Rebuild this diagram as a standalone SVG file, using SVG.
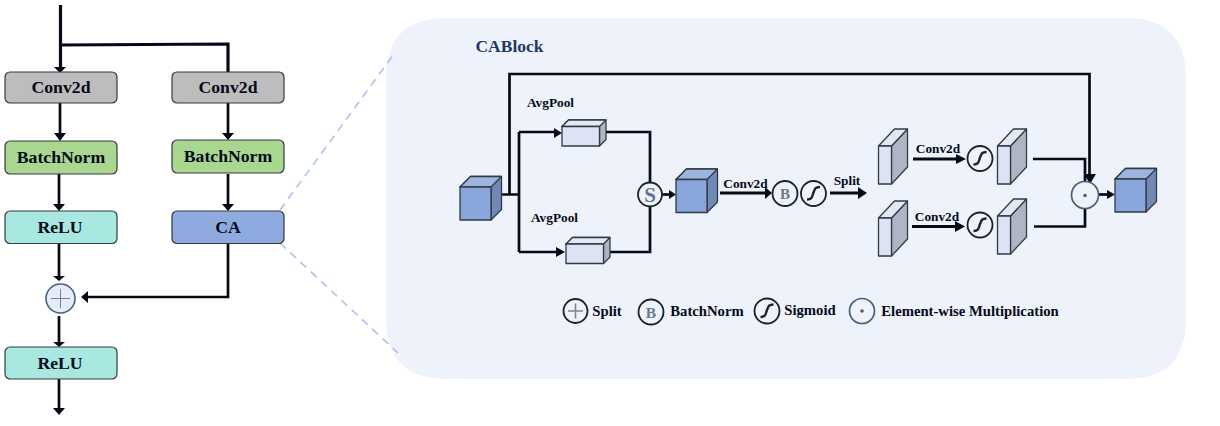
<svg xmlns="http://www.w3.org/2000/svg" width="1220" height="426" viewBox="0 0 1220 426">
<style>
text{font-family:"Liberation Serif","Times New Roman",serif;font-weight:bold;fill:#050a18;text-anchor:middle}
.n{font-size:17.7px}.s{font-size:13.300px}.l{font-size:14.700px}
.box{stroke:#333a40;stroke-width:1.200}
.w{fill:none;stroke:#050a14;stroke-width:3.200}
.t{fill:none;stroke:#050a14;stroke-width:2.700}
.h{fill:#050a14;stroke:none}
.c{fill:#eef2fb;stroke:#1c2128;stroke-width:1.800}
.cb{fill:#eef2fb;stroke:#4a5f80;stroke-width:1.700}
.sg{fill:none;stroke:#1c2128;stroke-width:2.400}
.e{stroke:#333a44;stroke-width:1.300;stroke-linejoin:round}
.d{stroke:#a9bde8;stroke-width:1.500;stroke-dasharray:8 6;fill:none}
</style>
<defs>
<g id="bigcube"><path class="e" d="M0 10.500L10.500 0H41.500V33L31 43.500V10.500Z" fill="#6f88b6"/><path class="e" d="M0 10.500L10.500 0H41.500L31 10.500Z" fill="#9db3e0"/><rect class="e" x="0" y="10.500" width="31" height="33" fill="#88a5dc"/></g>
<g id="thin"><path class="e" d="M0 17L16 0V38L0 55Z" transform="translate(13,0)" fill="#aeb6c6"/><path class="e" d="M0 17L16 0H29L13 17Z" fill="#e3e8f4"/><rect class="e" x="0" y="17" width="13" height="38" fill="#dbe3f5"/></g>
<g id="flat"><path class="e" d="M0 6.500L6.500 0H44V19.500L37.500 26V6.500Z" fill="#aeb6c6"/><path class="e" d="M0 6.500L6.500 0H44L37.500 6.500Z" fill="#e3e8f4"/><rect class="e" x="0" y="6.500" width="37.500" height="19.500" fill="#dbe3f5"/></g>
<g id="sig"><circle class="c" r="12.500"/><path class="sg" d="M-6.500 6C-1 6 -1.500 3 0 -1C1.500 -5 2 -6.500 6.500 -6.500"/></g>
</defs>
<path id="panel" d="M446 18H1126Q1186 18 1186 78V318Q1186 379 1126 379H446Q386 379 386 318V78Q386 18 446 18Z" fill="#eef2fb"/>
<g id="connectors">
<path class="d" d="M280 210L394 54M280 243L398 353"/>
<path class="w" d="M60.500 5V68M60.500 45L228 44V72"/><path class="h" d="M54 67H66L60 73Z"/>
<path class="t" d="M60 103V134M228 103V134M59 174V206M228 174V206M59 244V276M228 244V297H88M59 316V344M59 379V409"/>
<path class="h" d="M54 133H66L60 141ZM222 133H234L228 140ZM53 204H65L59 211ZM222 204H234L228 211ZM53 276H65L59 281ZM53 342H65L59 347ZM53 408H65L59 415ZM88 291V303L81 297Z"/>
<path class="t" d="M509.500 194.500V74H1089.500V176M502 194.500H519M519 132V252"/>
<path class="t" d="M519 132H555M519 252H556M606 132H650V182M609 252H650V207"/>
<path class="h" d="M554 128V138L562 133ZM556 247V257L565 252ZM1084 174H1096L1090 184Z"/>
<path class="t" d="M662 194.500H670"/><path class="h" d="M669 190V199L676 194.500Z"/>
<path class="w" d="M720 193H767M830 193H860M913 159H958M912 226.500H957"/>
<path class="h" d="M765 187V199L772 193ZM858 187V199L867 193ZM956 154V164L966 159ZM955 221V232L965 226.500Z"/>
<path class="t" d="M1033 159H1085V182M1034 226.500H1085V207"/>
<path class="t" d="M1099 194.500H1108"/><path class="h" d="M1107 190V199L1115 194.500Z"/>
</g>
<g id="conv2d-a"><rect class="box" x="5" y="72" width="112" height="31" rx="5" fill="#bdbdbd"/><text class="n" x="61" y="93">Conv2d</text></g>
<g id="batchnorm-a"><rect class="box" x="5" y="141" width="112" height="33" rx="5" fill="#a9d78f"/><text class="n" x="61" y="163">BatchNorm</text></g>
<g id="relu-a"><rect class="box" x="5" y="211" width="112" height="32.500" rx="5" fill="#a8e8e0"/><text class="n" x="60" y="233">ReLU</text></g>
<g id="conv2d-b"><rect class="box" x="172" y="72" width="112" height="31" rx="5" fill="#bdbdbd"/><text class="n" x="228" y="93">Conv2d</text></g>
<g id="batchnorm-b"><rect class="box" x="172" y="140" width="112" height="33" rx="5" fill="#a9d78f"/><text class="n" x="228" y="162">BatchNorm</text></g>
<g id="ca"><rect class="box" x="172" y="211" width="112" height="32.500" rx="5" fill="#8faadf"/><text class="n" x="228" y="233">CA</text></g>
<g id="add"><circle cx="60.500" cy="298.500" r="14.500" fill="#e6ecf9" stroke="#4a5f80" stroke-width="1.600"/><path d="M51 298.500H70M60.500 289V308" stroke="#7a7f8c" stroke-width="1"/></g>
<g id="relu-b"><rect class="box" x="5" y="347" width="112" height="32" rx="5" fill="#a8e8e0"/><text class="n" x="60" y="369">ReLU</text></g>
<g id="cablock-title"><text x="509.500" y="52" font-size="17.500" style="fill:#1f3864">CABlock</text></g>
<g id="input-cube"><use href="#bigcube" x="460" y="176.500"/></g>
<g id="avg-top"><use href="#flat" x="562" y="120"/><text class="s" x="550.500" y="107">AvgPool</text></g>
<g id="avg-bottom"><use href="#flat" x="566" y="237.500"/><text class="s" x="554.500" y="222">AvgPool</text></g>
<g id="s-op"><circle class="c" cx="650" cy="194.500" r="12"/><text x="650" y="202" font-size="21" style="fill:#65738f">S</text></g>
<g id="mid-cube"><use href="#bigcube" x="676" y="169"/></g>
<g id="label-conv"><text class="s" x="745.500" y="188">Conv2d</text></g>
<g id="b-op"><circle class="c" cx="785" cy="193.500" r="12.500"/><text x="785" y="199" font-size="15" style="fill:#6b7890">B</text></g>
<g id="sig-mid"><use href="#sig" x="813.500" y="193.500"/></g>
<g id="label-split"><text class="s" x="847" y="185">Split</text></g>
<g id="thin-1"><use href="#thin" x="878.500" y="129"/></g>
<g id="thin-2"><use href="#thin" x="878.500" y="201"/></g>
<g id="label-c1"><text class="s" x="938" y="153">Conv2d</text></g>
<g id="label-c2"><text class="s" x="937" y="221">Conv2d</text></g>
<g id="sig-1"><use href="#sig" x="980" y="158.500"/></g>
<g id="sig-2"><use href="#sig" x="980" y="225"/></g>
<g id="thin-3"><use href="#thin" x="997.500" y="129"/></g>
<g id="thin-4"><use href="#thin" x="997.500" y="199"/></g>
<g id="mul"><circle class="cb" cx="1085" cy="195" r="13.500"/><circle cx="1085" cy="195.500" r="1.800" fill="#555c6c"/></g>
<g id="output-cube"><use href="#bigcube" x="1115" y="168.500"/></g>
<g id="legend">
<circle class="c" cx="575.500" cy="311" r="12"/><path d="M568 311H583M575.500 303.500V318.500" stroke="#7f8590" stroke-width="1.600"/><text class="l" x="607" y="316">Split</text>
<circle class="c" cx="651" cy="312" r="12.500"/><text x="651" y="318" font-size="15.500" style="fill:#6b7890">B</text><text class="l" x="707" y="316">BatchNorm</text>
<use href="#sig" x="767" y="311"/><text class="l" x="810" y="315">Sigmoid</text>
<circle class="cb" cx="862" cy="311" r="12.500"/><circle cx="862" cy="311" r="1.800" fill="#555c6c"/><text class="l" x="970" y="316">Element-wise Multiplication</text>
</g>
</svg>
